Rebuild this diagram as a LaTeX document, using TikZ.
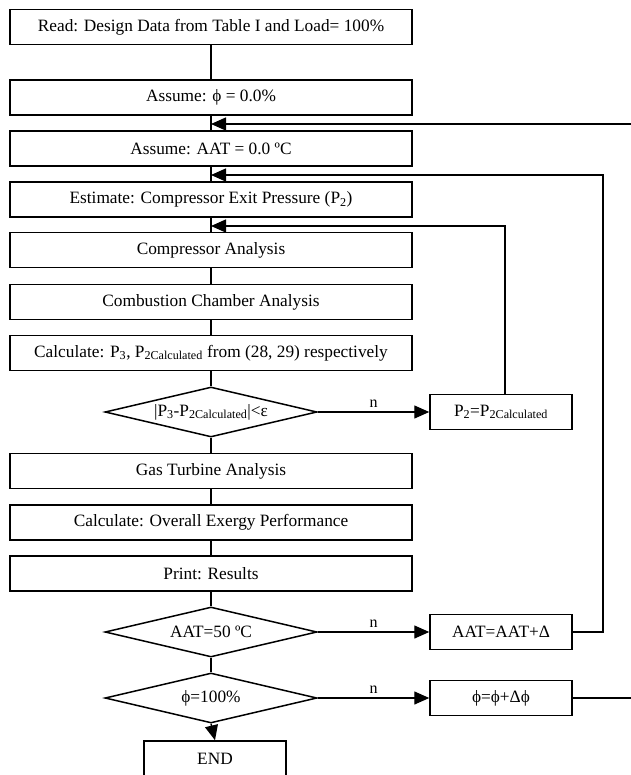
\documentclass[tikz,border=0pt]{standalone}
\usepackage{fontspec}
\setmainfont{Liberation Serif}
\usetikzlibrary{arrows.meta,shapes.geometric}
\begin{document}
\begin{tikzpicture}[x=1pt,y=-1pt,
  every node/.style={font=\fontsize{17.3}{20}\selectfont},
  box/.style={draw,line width=1.5pt,minimum width=402pt,minimum height=35pt,inner sep=0pt},
  sbox/.style={draw,line width=1.5pt,minimum width=142pt,minimum height=35pt,inner sep=0pt},
  dia/.style={draw,diamond,aspect=4.24,minimum width=212pt,minimum height=50pt,inner sep=0pt,line width=1.5pt},
  conn/.style={line width=1.4pt},
  arr/.style={conn,-{Triangle[length=15pt,width=13pt]}},
  lab/.style={font=\fontsize{16}{18}\selectfont,inner sep=0pt}
]
\useasboundingbox (0,0) rectangle (630,775);
\node[box] (read) at (211,27) {Read: Design Data from Table I and Load= 100\%};
\node[box] (phi0) at (211,97.5) {Assume: ϕ = 0.0\%};
\node[box] (aat0) at (211,148.5) {Assume: AAT = 0.0 ºC};
\node[box] (est) at (211,199.5) {Estimate: Compressor Exit Pressure (P\textsubscript{2})};
\node[box] (comp) at (211,250) {Compressor Analysis};
\node[box] (comb) at (211,302) {Combustion Chamber Analysis};
\node[box] (calc) at (211,353) {Calculate: P\textsubscript{3}, P\textsubscript{2Calculated} from (28, 29) respectively};
\node[dia] (d1) at (211,412) {|P\textsubscript{3}-P\textsubscript{2Calculated}|<ε};
\node[sbox] (p2) at (501,412) {P\textsubscript{2}=P\textsubscript{2Calculated}};
\node[box] (gas) at (211,471) {Gas Turbine Analysis};
\node[box] (ove) at (211,522.5) {Calculate: Overall Exergy Performance};
\node[box] (prt) at (211,573.5) {Print: Results};
\node[dia] (d2) at (211,632) {AAT=50 ºC};
\node[sbox] (aatinc) at (501,632) {AAT=AAT+Δ};
\node[dia] (d3) at (211,698) {ϕ=100\%};
\node[sbox] (phiinc) at (501,698) {ϕ=ϕ+Δϕ};
\node[sbox] (end) at (215,758.5) {END};
\coordinate (j1) at (211,124);
\coordinate (j2) at (211,175);
\coordinate (j3) at (211,226);
\coordinate (r2) at (603,632);
\coordinate (r1) at (640,698);
\draw[conn] (read.south) -- (phi0.north);
\draw[conn] (phi0.south) -- (aat0.north);
\draw[conn] (aat0.south) -- (est.north);
\draw[conn] (est.south) -- (comp.north);
\draw[conn] (comp.south) -- (comb.north);
\draw[conn] (comb.south) -- (calc.north);
\draw[conn] (calc.south) -- (d1.north);
\draw[conn] (d1.south) -- (gas.north);
\draw[conn] (gas.south) -- (ove.north);
\draw[conn] (ove.south) -- (prt.north);
\draw[conn] (prt.south) -- (d2.north);
\draw[conn] (d2.south) -- (d3.north);
\draw[arr] (d3.south) -- (end.north);
\draw[arr] (d1.east) -- node[lab,above=4pt]{n} (p2.west);
\draw[arr] (d2.east) -- node[lab,above=4pt]{n} (aatinc.west);
\draw[arr] (d3.east) -- node[lab,above=4pt]{n} (phiinc.west);
\draw[arr] ([xshift=4pt]p2.north) |- (j3);
\draw[arr] (aatinc.east) -- (r2) |- (j2);
\draw[arr] (phiinc.east) -- (r1) |- (j1);
\end{tikzpicture}
\end{document}
